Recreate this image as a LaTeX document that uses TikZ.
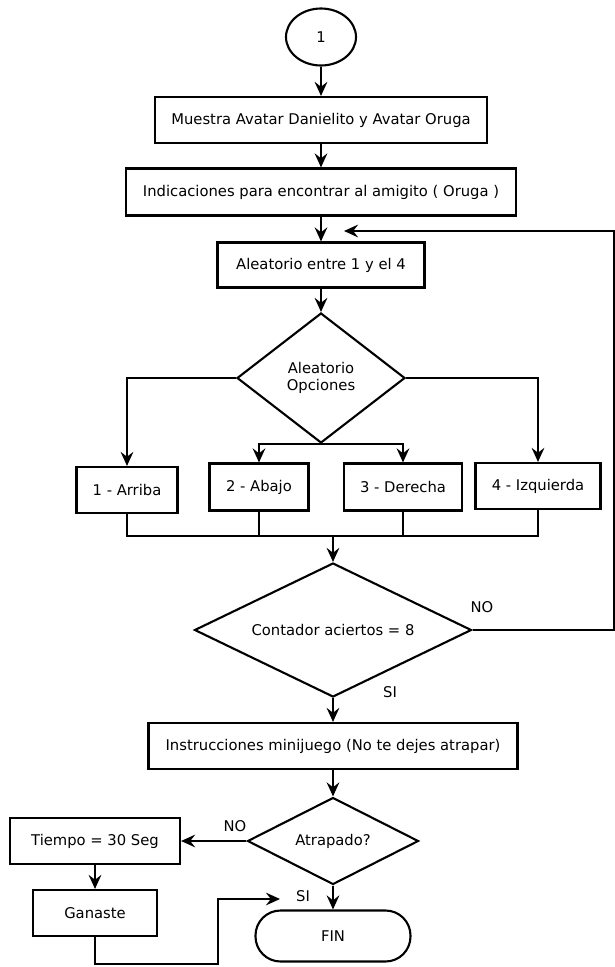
\documentclass[tikz,border=0pt]{standalone}
\usepackage{fontspec}
\setmainfont{DejaVu Sans}
\usetikzlibrary{arrows.meta,shapes.geometric}
\newdimen\px
\px=0.025cm
\begin{document}
\begin{tikzpicture}[x=0.025cm, y=-0.025cm, line width=1.5pt,
		font=\fontsize{10.5}{12.5}\selectfont,
		caja/.style={draw, rectangle, inner sep=0pt, minimum height=46\px},
		decision/.style={draw, diamond, inner sep=0pt, align=center},
		flecha/.style={-{Stealth[length=10pt, width=9pt, inset=3.5pt]}},
		etiqueta/.style={inner sep=0pt}]
		\useasboundingbox (0,0) rectangle (615,967);
		
		%parte de arriba
		\node (ini) at (321,37) [draw, ellipse, minimum width=70\px, minimum height=57\px]{1};
		\node (muestra) at (321,120) [caja, minimum width=332\px]{Muestra Avatar Danielito y Avatar Oruga};
		\node (indica) at (321,192) [caja, minimum width=390\px, minimum height=47\px]{Indicaciones para encontrar al amigito ( Oruga )};
		\node (azar) at (321,265) [caja, minimum width=207\px, minimum height=45\px]{Aleatorio entre 1 y el 4};
		
		\draw[flecha] (ini) -- (muestra);
		\draw[flecha] (muestra) -- (indica);
		\draw[flecha] (indica) -- (azar);
		
		%opciones
		\node (opc) at (321,378) [decision, aspect=1.3, minimum width=168\px, minimum height=130\px]{Aleatorio\\Opciones};
		\node (arriba) at (127,490) [caja, minimum width=101\px]{1 - Arriba};
		\node (abajo) at (259,487) [caja, minimum width=99\px, minimum height=47\px]{2 - Abajo};
		\node (derecha) at (403,487) [caja, minimum width=118\px, minimum height=47\px]{3 - Derecha};
		\node (izq) at (538,486) [caja, minimum width=125\px]{4 - Izquierda};
		
		\draw[flecha] (azar) -- (opc);
		\draw[flecha] (opc.west) -| (arriba.north);
		\draw[flecha] (opc.east) -| (izq.north);
		\draw[flecha] (opc.south) -| (abajo.north);
		\draw[flecha] (opc.south) -| (derecha.north);
		
		%union de las opciones
		\coordinate (union) at (333,536);
		\draw (arriba.south) |- (union) -| (izq.south);
		\draw (abajo.south) -- (abajo.south |- union);
		\draw (derecha.south) -- (derecha.south |- union);
		
		%contador
		\node (contador) at (333,630) [decision, aspect=2.07, minimum width=277\px, minimum height=134\px]{Contador aciertos = 8};
		\node (no1) at (482,607) [etiqueta]{NO};
		\node (si1) at (390,692) [etiqueta]{SI};
		\coordinate (lazo) at (614,231);
		\coordinate (retorno) at (344,231);
		
		\draw[flecha] (union) -- (contador);
		\draw[flecha] (contador.east) -| (lazo) -- (retorno);
		
		%minijuego
		\node (instr) at (333,746) [caja, minimum width=369\px]{Instrucciones minijuego (No te dejes atrapar)};
		\node (atrap) at (333,841) [decision, aspect=1.97, minimum width=171\px, minimum height=87\px]{Atrapado?};
		\node (no2) at (235,826) [etiqueta]{NO};
		\node (si2) at (303,896) [etiqueta]{SI};
		\node (tiempo) at (95,841) [caja, minimum width=170\px]{Tiempo = 30 Seg};
		\node (ganaste) at (95,913) [caja, minimum width=124\px]{Ganaste};
		\node (fin) at (333,936) [draw, rectangle, rounded corners=25\px, minimum width=155\px, minimum height=51\px]{FIN};
		\coordinate (g1) at (218,964);
		\coordinate (g2) at (280,899);
		
		\draw[flecha] (contador) -- (instr);
		\draw[flecha] (instr) -- (atrap);
		\draw[flecha] (atrap.west) -- (tiempo.east);
		\draw[flecha] (tiempo) -- (ganaste);
		\draw[flecha] (ganaste.south) |- (g1) |- (g2);
		\draw[flecha] (atrap) -- (fin);
\end{tikzpicture}
\end{document}
